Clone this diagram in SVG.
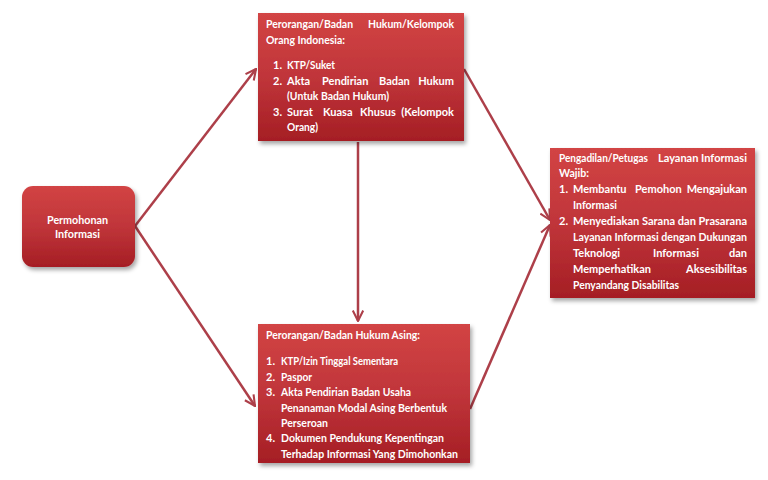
<svg xmlns="http://www.w3.org/2000/svg" width="768" height="480" viewBox="0 0 768 480">
<style>
.t{font-family:Lato,"Open Sans","Liberation Sans",sans-serif;font-size:11px;font-weight:bold;fill:#ffffff}
.e{text-anchor:end}
.c{fill:none;stroke:#ad3f49;stroke-width:2.5}
.box{fill:url(#g);filter:url(#sh)}
</style>
<defs>
<linearGradient id="g" x1="0" y1="0" x2="0" y2="1">
<stop offset="0" stop-color="#d24444"/>
<stop offset="0.5" stop-color="#c0353a"/>
<stop offset="1" stop-color="#a51e24"/>
</linearGradient>
<filter id="sh" x="-10%" y="-10%" width="130%" height="130%">
<feDropShadow dx="2" dy="3" stdDeviation="2" flood-color="#000" flood-opacity="0.35"/>
</filter>
<marker id="ah" viewBox="0 0 12 12" refX="11" refY="6" markerWidth="5" markerHeight="5" orient="auto" markerUnits="strokeWidth">
<path d="M1,1 L11,6 L1,11" fill="none" stroke="#ad3f49" stroke-width="2"/>
</marker>
</defs>
<rect width="768" height="480" fill="#ffffff"/>
<g id="connectors">
<line class="c" x1="135" y1="226" x2="256" y2="69" marker-end="url(#ah)"/>
<line class="c" x1="135" y1="226" x2="255" y2="406" marker-end="url(#ah)"/>
<line class="c" x1="358" y1="142" x2="358" y2="321" marker-end="url(#ah)"/>
<line class="c" x1="464" y1="69" x2="550" y2="220" marker-end="url(#ah)"/>
<line class="c" x1="470" y1="409" x2="550" y2="225" marker-end="url(#ah)"/>
</g>
<g id="permohonan">
<rect class="box" x="22" y="186" width="113" height="81" rx="11"/>
<text class="t" x="47" y="224" textLength="61" lengthAdjust="spacingAndGlyphs">Permohonan</text>
<text class="t" x="55" y="238" textLength="45" lengthAdjust="spacingAndGlyphs">Informasi</text>
</g>
<g id="indonesia">
<rect class="box" x="258" y="13" width="206" height="128"/>
<text class="t" x="266" y="28" textLength="87" lengthAdjust="spacingAndGlyphs">Perorangan/Badan</text>
<text class="t" x="368" y="28" textLength="86" lengthAdjust="spacingAndGlyphs">Hukum/Kelompok</text>
<text class="t" x="266" y="44" textLength="79" lengthAdjust="spacingAndGlyphs">Orang Indonesia:</text>
<text class="t" x="273" y="69">1.</text>
<text class="t" x="287" y="69" textLength="48" lengthAdjust="spacingAndGlyphs">KTP/Suket</text>
<text class="t" x="273" y="85">2.</text>
<text class="t" x="287" y="85">Akta</text>
<text class="t" x="322" y="85">Pendirian</text>
<text class="t" x="379" y="85">Badan</text>
<text class="t e" x="454" y="85">Hukum</text>
<text class="t" x="287" y="100" textLength="102" lengthAdjust="spacingAndGlyphs">(Untuk Badan Hukum)</text>
<text class="t" x="273" y="116">3.</text>
<text class="t" x="287" y="116">Surat</text>
<text class="t" x="323" y="116">Kuasa</text>
<text class="t" x="360" y="116">Khusus</text>
<text class="t e" x="454" y="116">(Kelompok</text>
<text class="t" x="287" y="131" textLength="31" lengthAdjust="spacingAndGlyphs">Orang)</text>
</g>
<g id="asing">
<rect class="box" x="258" y="324" width="212" height="139"/>
<text class="t" x="266" y="339" textLength="154" lengthAdjust="spacingAndGlyphs">Perorangan/Badan Hukum Asing:</text>
<text class="t" x="266" y="365">1.</text>
<text class="t" x="281" y="365" textLength="117" lengthAdjust="spacingAndGlyphs">KTP/Izin Tinggal Sementara</text>
<text class="t" x="266" y="381">2.</text>
<text class="t" x="281" y="381" textLength="31" lengthAdjust="spacingAndGlyphs">Paspor</text>
<text class="t" x="266" y="396">3.</text>
<text class="t" x="281" y="396" textLength="130" lengthAdjust="spacingAndGlyphs">Akta Pendirian Badan Usaha</text>
<text class="t" x="281" y="412" textLength="166" lengthAdjust="spacingAndGlyphs">Penanaman Modal Asing Berbentuk</text>
<text class="t" x="281" y="427" textLength="47" lengthAdjust="spacingAndGlyphs">Perseroan</text>
<text class="t" x="266" y="442">4.</text>
<text class="t" x="281" y="442" textLength="163" lengthAdjust="spacingAndGlyphs">Dokumen Pendukung Kepentingan</text>
<text class="t" x="281" y="458" textLength="177" lengthAdjust="spacingAndGlyphs">Terhadap Informasi Yang Dimohonkan</text>
</g>
<g id="pengadilan">
<rect class="box" x="550" y="148" width="205" height="150"/>
<text class="t" x="559" y="162" textLength="89" lengthAdjust="spacingAndGlyphs">Pengadilan/Petugas</text>
<text class="t" x="658" y="162">Layanan</text>
<text class="t e" x="747" y="162">Informasi</text>
<text class="t" x="559" y="177" textLength="30" lengthAdjust="spacingAndGlyphs">Wajib:</text>
<text class="t" x="559" y="193">1.</text>
<text class="t" x="573" y="193">Membantu</text>
<text class="t" x="635" y="193">Pemohon</text>
<text class="t e" x="747" y="193">Mengajukan</text>
<text class="t" x="573" y="209" textLength="44" lengthAdjust="spacingAndGlyphs">Informasi</text>
<text class="t" x="559" y="225">2.</text>
<text class="t" x="573" y="225" textLength="174" lengthAdjust="spacingAndGlyphs">Menyediakan Sarana dan Prasarana</text>
<text class="t" x="573" y="241" textLength="174" lengthAdjust="spacingAndGlyphs">Layanan Informasi dengan Dukungan</text>
<text class="t" x="573" y="257">Teknologi</text>
<text class="t" x="653" y="257">Informasi</text>
<text class="t e" x="747" y="257">dan</text>
<text class="t" x="573" y="273">Memperhatikan</text>
<text class="t e" x="747" y="273">Aksesibilitas</text>
<text class="t" x="573" y="289" textLength="106" lengthAdjust="spacingAndGlyphs">Penyandang Disabilitas</text>
</g>
</svg>
